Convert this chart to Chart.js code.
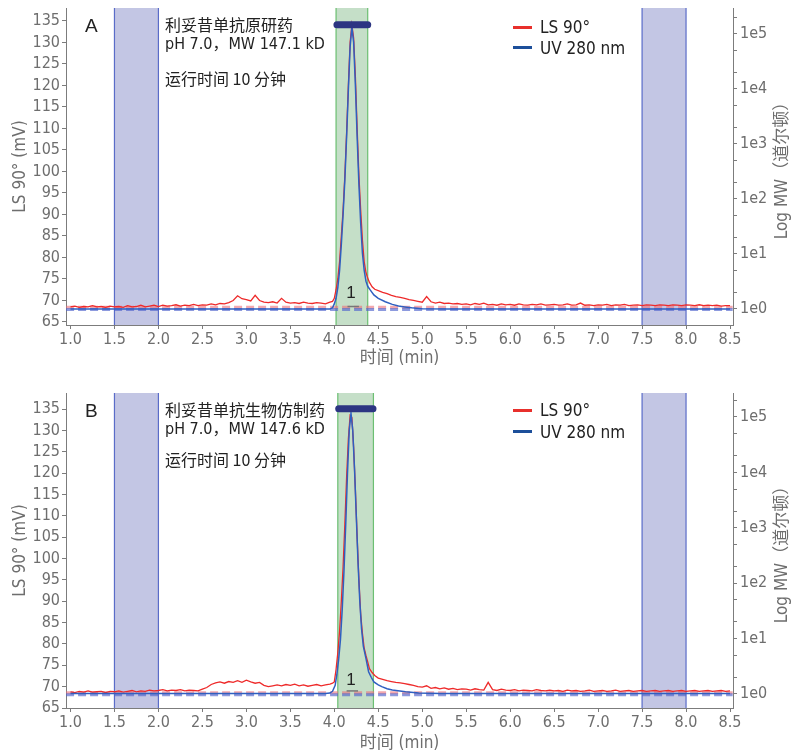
<!DOCTYPE html>
<html><head><meta charset="utf-8">
<script src="https://cdn.jsdelivr.net/npm/chart.js@4.4.1/dist/chart.umd.min.js"></script>
<style>
body{margin:0;background:#fff;}
#wrap{position:relative;width:793px;height:754px;overflow:hidden;background:#fff;}
canvas{position:absolute;left:0;}
.t{position:absolute;white-space:nowrap;line-height:1;color:#222;}
.cn{font-family:"Noto Sans CJK SC",sans-serif;font-size:16px;}
.lat{font-family:"Liberation Sans Narrow","DejaVu Sans Condensed","Noto Sans CJK SC",sans-serif;font-size:16px;}
.big{font-family:"Liberation Sans",Arial,sans-serif;font-size:19px;}
.leg{font-family:"Liberation Sans Narrow","DejaVu Sans Condensed",sans-serif;font-size:17px;}
.sw{position:absolute;width:19px;height:3px;}
</style></head>
<body><div id="wrap">
<canvas id="cA" width="793" height="377" style="top:0"></canvas>
<canvas id="cB" width="793" height="377" style="top:377px"></canvas>

<div class="t big" style="left:85px;top:16px">A</div>
<div class="t cn" style="left:165px;top:16px">利妥昔单抗原研药</div>
<div class="t lat" style="left:165px;top:36px">pH 7.0，MW 147.1 kD</div>
<div class="t cn" style="left:165px;top:70px">运行时间 10 分钟</div>
<div class="sw" style="left:513px;top:26px;background:#e8302c"></div>
<div class="t leg" style="left:540px;top:19px">LS 90°</div>
<div class="sw" style="left:513px;top:46px;background:#1d4f9a"></div>
<div class="t leg" style="left:540px;top:40px">UV 280 nm</div>

<div class="t big" style="left:85px;top:401px">B</div>
<div class="t cn" style="left:165px;top:401px">利妥昔单抗生物仿制药</div>
<div class="t lat" style="left:165px;top:421px">pH 7.0，MW 147.6 kD</div>
<div class="t cn" style="left:165px;top:451px">运行时间 10 分钟</div>
<div class="sw" style="left:513px;top:409px;background:#e8302c"></div>
<div class="t leg" style="left:540px;top:402px">LS 90°</div>
<div class="sw" style="left:513px;top:430px;background:#1d4f9a"></div>
<div class="t leg" style="left:540px;top:424px">UV 280 nm</div>
</div>
<script>
// ---------- data ----------
const xTicks = [1.0,1.5,2.0,2.5,3.0,3.5,4.0,4.5,5.0,5.5,6.0,6.5,7.0,7.5,8.0,8.5];
const lsTicks = [65,70,75,80,85,90,95,100,105,110,115,120,125,130,135];
const mwDecades = [0,1,2,3,4,5];
const mwMinorMultiples = [2,5];
const rightTitle = 'Log MW（道尔顿）';

const lsTime = [
1.00,1.05,1.10,1.15,1.20,1.25,1.30,1.35,1.40,1.45,
1.50,1.55,1.60,1.65,1.70,1.75,1.80,1.85,1.90,1.95,
2.00,2.05,2.10,2.15,2.20,2.25,2.30,2.35,2.40,2.45,
2.50,2.55,2.60,2.65,2.70,2.75,2.80,2.85,2.90,2.95,
3.00,3.05,3.10,3.15,3.20,3.25,3.30,3.35,3.40,3.45,
3.50,3.55,3.60,3.65,3.70,3.75,3.80,3.85,3.90,3.95,
3.98,4.00,4.02,4.04,4.06,4.08,4.10,4.12,4.14,4.16,4.18,4.20,4.22,4.24,4.26,4.28,4.30,4.32,4.34,4.36,4.38,4.40,4.43,4.46,
4.50,4.55,4.60,4.65,4.70,4.75,4.80,4.85,4.90,4.95,
5.00,5.05,5.10,5.15,5.20,5.25,5.30,5.35,5.40,5.45,
5.50,5.55,5.60,5.65,5.70,5.75,5.80,5.85,5.90,5.95,
6.00,6.05,6.10,6.15,6.20,6.25,6.30,6.35,6.40,6.45,
6.50,6.55,6.60,6.65,6.70,6.75,6.80,6.85,6.90,6.95,
7.00,7.05,7.10,7.15,7.20,7.25,7.30,7.35,7.40,7.45,
7.50,7.55,7.60,7.65,7.70,7.75,7.80,7.85,7.90,7.95,
8.00,8.05,8.10,8.15,8.20,8.25,8.30,8.35,8.40,8.45,8.50];

const lsA = [
68.5,68.7,68.4,68.6,68.5,68.8,68.5,68.6,68.4,68.7,
68.5,68.6,68.4,68.8,68.5,68.6,68.9,68.5,68.7,68.9,
68.6,68.9,68.7,68.8,69.0,68.7,68.9,68.8,69.1,68.8,
69.0,68.9,69.2,69.0,69.3,69.2,69.5,70.0,71.1,70.4,
70.2,69.9,71.2,70.0,69.6,69.5,69.7,69.4,70.5,69.6,
69.4,69.5,69.3,69.6,69.4,69.3,69.5,69.4,69.2,69.6,
69.8,70.5,72.5,75,79,85,91,99,109,120,130,134,131,122,110,99,91,84,79,76.5,75.2,74.2,73.2,72.6,
72.3,71.9,71.6,71.2,70.9,70.7,70.5,70.2,70.0,69.8,
69.6,70.9,69.7,69.4,69.6,69.3,69.4,69.2,69.3,69.1,
69.2,69.0,69.3,69.1,69.4,69.0,69.1,68.9,69.2,69.0,
69.1,68.9,69.2,69.0,68.9,69.1,69.0,69.2,68.9,69.0,
69.1,68.9,69.0,69.2,68.9,69.0,69.4,68.9,69.0,68.8,
69.0,68.9,69.1,68.8,69.0,68.9,69.1,68.8,68.9,69.0,
68.8,69.0,68.9,68.8,69.0,68.9,68.8,69.0,68.9,68.8,
69.0,68.9,68.8,69.0,68.8,68.9,68.8,68.9,68.7,68.8,68.8];

const lsB = [
68.8,68.6,68.9,68.7,69.0,68.7,68.8,68.9,68.6,68.9,
68.8,69.0,68.7,68.9,69.1,68.8,69.0,68.9,69.2,69.0,
69.1,69.3,69.0,69.2,69.1,69.3,69.0,69.2,69.1,69.0,
69.4,69.8,70.5,70.9,71.1,70.8,71.2,71.0,71.4,71.0,
71.5,71.1,70.8,71.0,70.3,70.0,70.2,70.4,70.2,70.5,
70.3,70.6,70.2,70.4,70.1,70.3,70.5,70.2,70.4,70.6,
70.8,71.1,74,78,83,90,98,108,119,128,133.5,133,126,116,105,95,87,82.5,79,77.3,75.8,74.2,73.3,72.6,
72.0,71.7,71.4,71.2,71.0,70.9,70.7,70.5,70.3,70.0,
69.9,70.2,69.6,69.8,69.5,69.7,69.4,69.6,69.3,69.5,
69.4,69.2,69.5,69.3,69.2,71.0,69.3,69.1,69.4,69.2,
69.1,69.3,69.0,69.2,69.1,69.0,69.3,69.1,69.0,69.2,
69.0,69.1,68.9,69.2,69.0,69.1,68.9,69.0,69.2,68.9,
69.0,69.1,68.9,69.0,69.2,68.9,69.0,69.1,68.9,69.0,
69.1,68.9,69.0,69.1,68.9,69.0,69.1,68.9,69.0,69.1,
68.9,69.0,69.1,68.9,69.0,69.1,68.9,69.0,69.1,68.9,69.0];

const uvTimeA = [1.0,2.0,3.0,3.9,3.95,3.98,4.00,4.02,4.04,4.06,4.08,4.10,4.12,4.14,4.16,4.18,4.20,4.22,4.24,4.26,4.28,4.30,4.32,4.34,4.36,4.38,4.41,4.45,4.50,4.58,4.66,4.73,4.80,4.88,5.0,5.3,6.0,7.0,8.5];
const uvA = [68.0,68.0,68.0,68.0,68.0,68.3,69.2,70.5,73,77,83,90,98,108,119,129,133.5,130,120,108,97,88,81,77,74.5,73.3,72.4,71.3,70.5,69.7,69.1,68.7,68.5,68.3,68.1,68.0,68.0,68.0,68.0];

const uvTimeB = [1.0,2.0,3.0,3.9,3.95,3.98,4.01,4.03,4.05,4.07,4.09,4.11,4.13,4.15,4.17,4.19,4.21,4.23,4.25,4.27,4.29,4.31,4.33,4.36,4.39,4.42,4.45,4.50,4.54,4.60,4.66,4.81,4.96,5.2,6.0,7.0,8.5];
const uvB = [68.4,68.4,68.4,68.4,68.5,68.9,70.3,73,76.5,81,88,97,108,120,130,134,130,121,110,99,90,83.5,79.5,76.6,73.5,72.2,71.1,70.4,70.0,69.5,69.2,68.8,68.5,68.4,68.4,68.4,68.4];

const baseSpan = [0.95, 8.53];
const lsBaseline = [68.45, 68.6];   // A, B
const uvBaseline = [67.9, 68.1];    // A, B
const peakBarA = {from:4.03, to:4.38, y:134.1};
const peakBarB = {from:4.05, to:4.44, y:135.1};
const peakMarkA = {from:4.15, to:4.28, y:68.6, label:'1', labelX:4.19, labelY:71.6};
const peakMarkB = {from:4.14, to:4.27, y:69.0, label:'1', labelX:4.19, labelY:71.4};
const regionsA = [[1.5,2.0,'blue'],[4.02,4.38,'green'],[7.5,8.0,'blue']];
const regionsB = [[1.5,2.0,'blue'],[4.04,4.445,'green'],[7.5,8.0,'blue']];

// ---------- drawing ----------
const GREY = '#6e6e6e', AXIS = '#7c7c7c';
const FAM = '"Liberation Sans Narrow","DejaVu Sans Condensed","Noto Sans CJK SC",sans-serif';
const tickFont = {family:FAM, size:16};
const titleFont = {family:FAM, size:17};
const REG = {blue:{fill:'#c3c6e4', line:'#5a6cc8'}, green:{fill:'#c5dfc8', line:'#6cbf72'}};

const bandsPlugin = {
  id:'bands',
  beforeDatasetsDraw(chart, args, opts){
    const {ctx, chartArea:{top,bottom}, scales:{x}} = chart;
    (opts.regions||[]).forEach(r=>{
      const x0 = x.getPixelForValue(r[0]), x1 = x.getPixelForValue(r[1]);
      const st = REG[r[2]];
      ctx.save();
      ctx.fillStyle = st.fill; ctx.fillRect(x0, top, x1-x0, bottom-top);
      ctx.strokeStyle = st.line; ctx.lineWidth = 1.2;
      ctx.beginPath(); ctx.moveTo(x0,top); ctx.lineTo(x0,bottom); ctx.moveTo(x1,top); ctx.lineTo(x1,bottom); ctx.stroke();
      ctx.restore();
    });
  },
  afterDatasetsDraw(chart, args, opts){
    const m = opts.mark; if(!m) return;
    const {ctx, scales:{x,y}} = chart;
    ctx.save();
    ctx.font = '17px "Liberation Sans", Arial, sans-serif';
    ctx.fillStyle = '#222'; ctx.textAlign='center'; ctx.textBaseline='middle';
    ctx.fillText(m.label, x.getPixelForValue(m.labelX), y.getPixelForValue(m.labelY));
    ctx.restore();
  },
  afterDraw(chart){
    // right axis title, reading bottom-to-top like the reference
    const {ctx, chartArea:{top,bottom}} = chart;
    ctx.save();
    ctx.translate(chart.width - 10, (top+bottom)/2);
    ctx.rotate(-Math.PI/2);
    ctx.font = '17px ' + FAM;
    ctx.fillStyle = GREY; ctx.textAlign='center'; ctx.textBaseline='middle';
    ctx.fillText(rightTitle, 0, 0);
    ctx.restore();
  }
};

function pts(xs, ys){ return xs.map((t,i)=>({x:t,y:ys[i]})); }

function makeChart(id, o){
  const mwTickVals = [];
  mwDecades.forEach(d=>{ mwTickVals.push(d); mwMinorMultiples.forEach(m=>mwTickVals.push(d+Math.log10(m))); });
  mwMinorMultiples.forEach(m=>mwTickVals.push(-1+Math.log10(m)));
  new Chart(document.getElementById(id), {
    type:'line',
    data:{datasets:[
      {data:[{x:o.bar.from,y:o.bar.y},{x:o.bar.to,y:o.bar.y}], borderColor:'#2c3582', borderWidth:7, borderCapStyle:'round'},
      {data:[{x:o.mark.from,y:o.mark.y},{x:o.mark.to,y:o.mark.y}], borderColor:'#777', borderWidth:1.5},
      {data:pts(o.uvT,o.uv), borderColor:'#2f5fc0', borderWidth:1.5},
      {data:pts(lsTime,o.ls), borderColor:'#ee2a2a', borderWidth:1.3},
      {data:[{x:baseSpan[0],y:o.uvBase},{x:baseSpan[1],y:o.uvBase}], borderColor:'rgba(80,100,205,0.65)', borderWidth:3, borderDash:[8,4]},
      {data:[{x:baseSpan[0],y:o.lsBase},{x:baseSpan[1],y:o.lsBase}], borderColor:'rgba(235,110,120,0.6)', borderWidth:3, borderDash:[8,4]}
    ]},
    options:{
      responsive:false, animation:false, events:[],
      layout:{padding:{top:o.padTop, bottom:o.padBottom, left:0, right:0}},
      elements:{point:{radius:0}, line:{tension:0}},
      plugins:{legend:{display:false}, tooltip:{enabled:false}, bands:{regions:o.regions, mark:o.mark}},
      scales:{
        x:{type:'linear', min:0.949, max:8.534,
          afterBuildTicks:s=>{ s.ticks = xTicks.map(v=>({value:v})); },
          ticks:{autoSkip:false, maxRotation:0, font:tickFont, color:GREY, padding:1, callback:v=>Number(v).toFixed(1)},
          grid:{drawOnChartArea:false, tickLength:4, color:AXIS},
          border:{color:AXIS, width:1},
          title:{display:true, text:'时间 (min)', font:titleFont, color:GREY, padding:0},
          afterFit:s=>{ s.height=o.xH; s.paddingLeft=0; s.paddingRight=0; }
        },
        y:{position:'left', min:o.yMin, max:o.yMax,
          afterBuildTicks:s=>{ s.ticks = lsTicks.map(v=>({value:v})); },
          ticks:{autoSkip:false, font:tickFont, color:GREY, padding:2},
          grid:{drawOnChartArea:false, tickLength:4, color:AXIS},
          border:{color:AXIS, width:1},
          title:{display:true, text:'LS 90° (mV)', font:titleFont, color:GREY, padding:{top:10,bottom:0}},
          afterFit:s=>{ s.width=66; s.paddingTop=0; s.paddingBottom=0; }
        },
        y2:{position:'right', min:o.mwMin, max:o.mwMax,
          afterBuildTicks:s=>{ s.ticks = mwTickVals.filter(v=>v>=o.mwMin && v<=o.mwMax).map(v=>({value:v})); },
          ticks:{autoSkip:false, font:tickFont, color:GREY, padding:3,
            callback:v=>{ const r=Math.round(v); return Math.abs(v-r)<1e-6 ? '1e'+r : ''; }},
          grid:{drawOnChartArea:false, tickLength:4, color:AXIS},
          border:{color:AXIS, width:1},
          title:{display:false},
          afterFit:s=>{ s.width=60; s.paddingTop=0; s.paddingBottom=0; }
        }
      }
    },
    plugins:[bandsPlugin]
  });
}

makeChart('cA', {ls:lsA, uvT:uvTimeA, uv:uvA, lsBase:lsBaseline[0], uvBase:uvBaseline[0],
  bar:peakBarA, mark:peakMarkA, regions:regionsA,
  yMin:64.3, yMax:138.0, mwMin:-0.291, mwMax:5.471, padTop:8, padBottom:8.4, xH:43.6});
makeChart('cB', {ls:lsB, uvT:uvTimeB, uv:uvB, lsBase:lsBaseline[1], uvBase:uvBaseline[1],
  bar:peakBarB, mark:peakMarkB, regions:regionsB,
  yMin:65.0, yMax:138.76, mwMin:-0.253, mwMax:5.433, padTop:16, padBottom:0.4, xH:45.6});
</script>
</body></html>
